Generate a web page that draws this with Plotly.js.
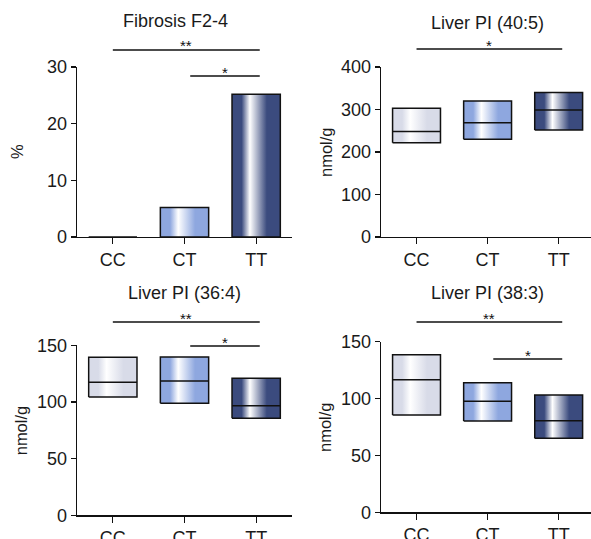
<!DOCTYPE html>
<html><head><meta charset="utf-8">
<script src="https://cdn.plot.ly/plotly-3.0.1.min.js"></script>
<style>html,body{margin:0;padding:0;background:#fff}#chart{width:591px;height:539px}</style>
</head><body><div id="chart"></div>
<script>
// ---------- data ----------
const categories = ['CC', 'CT', 'TT'];

const fibrosisPct = [0, 5.2, 25.2];

const pi405Min = [222, 230, 252];
const pi405Median = [248, 269, 299];
const pi405Max = [303, 320, 340];

const pi364Min = [104.4, 98.8, 85.6];
const pi364Median = [117.4, 118.5, 96.7];
const pi364Max = [139.4, 139.7, 120.9];

const pi383Min = [85.5, 80.3, 65.1];
const pi383Median = [116.6, 97.6, 80.5];
const pi383Max = [138.6, 114.0, 103.1];

const panelTitles = ['Fibrosis F2-4', 'Liver PI (40:5)', 'Liver PI (36:4)', 'Liver PI (38:3)'];
const yTitles = ['%', 'nmol/g', 'nmol/g', 'nmol/g'];

// significance brackets: [from, to, label]
const sigFibrosis = [['CC', 'TT', '**'], ['CT', 'TT', '*']];
const sig405 = [['CC', 'TT', '*']];
const sig364 = [['CC', 'TT', '**'], ['CT', 'TT', '*']];
const sig383 = [['CC', 'TT', '**'], ['CT', 'TT', '*']];

// ---------- styles ----------
const groupColors = ['#d8dbe8', '#8ea7df', '#3b4b7e'];
const INK = '#111111';
const FONT = 'Liberation Sans, Arial, Helvetica, sans-serif';
const HALF = 0.337;
const W = 591, H = 539;

const panels = [
  {lo: categories.map(() => 0), hi: fibrosisPct, med: null, sig: sigFibrosis,
   xd: [77, 292], yd: [67, 237], range: [0, 30], dtick: 10, xr: [-0.5, 2.5],
   sigY: [50, 76], titleY: 21, titleShift: -9, yTitleX: 17},
  {lo: pi405Min, hi: pi405Max, med: pi405Median, sig: sig405,
   xd: [381, 591], yd: [67, 237], range: [0, 400], dtick: 100, xr: [-0.5, 2.455],
   sigY: [49], titleY: 23, titleShift: 0, yTitleX: 326},
  {lo: pi364Min, hi: pi364Max, med: pi364Median, sig: sig364,
   xd: [77, 292], yd: [345.3, 515.3], range: [0, 150], dtick: 50, xr: [-0.5, 2.5],
   sigY: [322, 346], titleY: 293, titleShift: 0, yTitleX: 21},
  {lo: pi383Min, hi: pi383Max, med: pi383Median, sig: sig383,
   xd: [381, 591], yd: [341.7, 512.3], range: [0, 150], dtick: 50, xr: [-0.5, 2.455],
   sigY: [322, 359], titleY: 293, titleShift: 0, yTitleX: 325}
];

const traces = [];
const layout = {
  width: W, height: H,
  margin: {l: 0, r: 0, t: 0, b: 0},
  paper_bgcolor: '#ffffff', plot_bgcolor: 'rgba(0,0,0,0)',
  showlegend: false,
  font: {family: FONT, color: '#1a1a1a'},
  shapes: [], annotations: []
};

panels.forEach((p, k) => {
  const s = k === 0 ? '' : String(k + 1);
  const xa = 'x' + s, ya = 'y' + s;
  categories.forEach((c, i) => {
    const c0 = groupColors[i];
    traces.push({
      type: 'scatter', mode: 'lines', xaxis: xa, yaxis: ya,
      x: [i - HALF, i + HALF, i + HALF, i - HALF, i - HALF],
      y: [p.lo[i], p.lo[i], p.hi[i], p.hi[i], p.lo[i]],
      fill: 'toself',
      fillgradient: {type: 'horizontal',
        colorscale: [[0, c0], [0.2, c0], [0.37, '#ffffff'], [0.72, c0], [1, c0]]},
      line: {color: INK, width: 1.5},
      hoverinfo: 'skip', name: c
    });
    if (p.med) {
      traces.push({
        type: 'scatter', mode: 'lines', xaxis: xa, yaxis: ya,
        x: [i - HALF, i + HALF], y: [p.med[i], p.med[i]],
        line: {color: INK, width: 1.5}, hoverinfo: 'skip', name: c + ' median'
      });
    }
  });

  layout['xaxis' + s] = {
    domain: [p.xd[0] / W, p.xd[1] / W], anchor: ya, range: p.xr,
    tickmode: 'array', tickvals: categories.map((c, i) => i), ticktext: categories,
    showline: true, linecolor: INK, linewidth: 1.3,
    ticks: 'outside', ticklen: 6, tickwidth: 1.3, tickcolor: INK,
    showgrid: false, zeroline: false, fixedrange: true,
    tickfont: {family: FONT, size: 18, color: '#1a1a1a'}
  };
  layout['yaxis' + s] = {
    domain: [1 - p.yd[1] / H, 1 - p.yd[0] / H], anchor: xa, range: p.range,
    dtick: p.dtick, tick0: 0,
    showline: true, linecolor: INK, linewidth: 1.3,
    ticks: 'outside', ticklen: 5, tickwidth: 1.3, tickcolor: INK,
    showgrid: false, zeroline: false, fixedrange: true,
    tickfont: {family: FONT, size: 18, color: '#1a1a1a'}
  };

  p.sig.forEach((sg, j) => {
    const a = categories.indexOf(sg[0]), b = categories.indexOf(sg[1]);
    const yp = 1 - p.sigY[j] / H;
    const x0 = a + (a === 0 ? 0 : 0.08), x1 = b + 0.05;
    layout.shapes.push({type: 'line', xref: xa, yref: 'paper',
      x0: x0, x1: x1, y0: yp, y1: yp, line: {color: INK, width: 1.3}});
    layout.annotations.push({xref: xa, yref: 'paper', x: (x0 + x1) / 2, y: yp,
      yanchor: 'middle', xanchor: 'center', yshift: 4, text: sg[2], showarrow: false,
      font: {family: FONT, size: 15, color: INK}});
  });

  layout.annotations.push({xref: xa, yref: 'paper', x: 1, y: 1 - p.titleY / H,
    xanchor: 'center', yanchor: 'middle', xshift: p.titleShift,
    text: panelTitles[k], showarrow: false,
    font: {family: FONT, size: 18, color: '#1a1a1a'}});
  layout.annotations.push({xref: 'paper', yref: 'paper', x: p.yTitleX / W,
    y: 1 - (p.yd[0] + p.yd[1]) / 2 / H, xanchor: 'center', yanchor: 'middle',
    textangle: -90, text: yTitles[k], showarrow: false,
    font: {family: FONT, size: 16.5, color: '#1a1a1a'}});
});

Plotly.newPlot('chart', traces, layout, {staticPlot: true, displayModeBar: false});
</script>
</body></html>
